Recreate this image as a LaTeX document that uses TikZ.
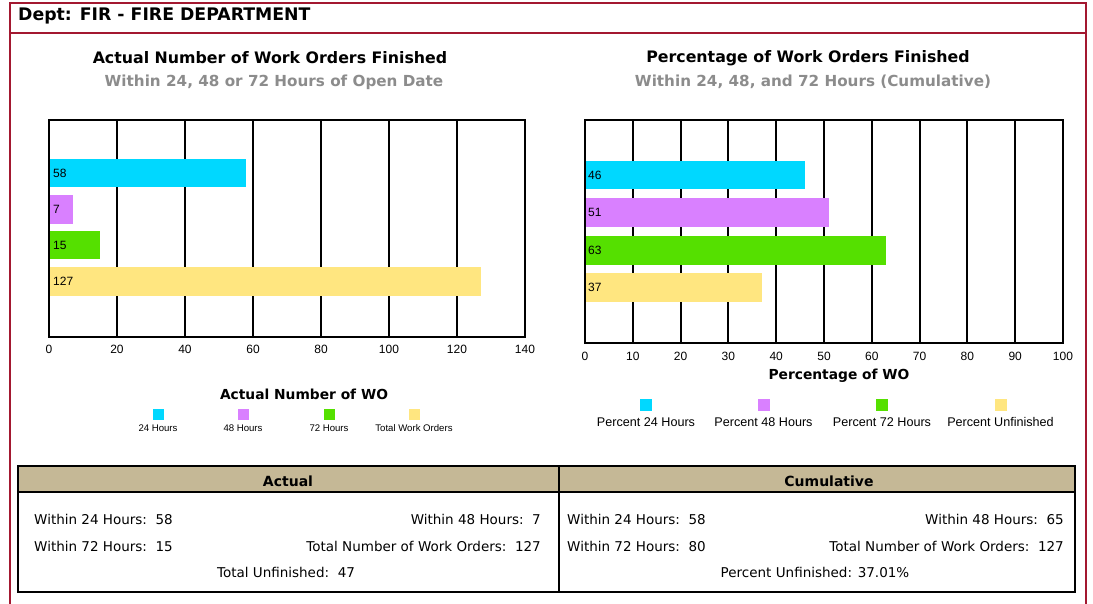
\documentclass[tikz,border=0pt]{standalone}
\usepackage{fontspec}
\setmainfont{DejaVu Sans}
\newfontfamily\arialf{Liberation Sans}
\newfontfamily\tahomaf{DejaVu Sans}
\definecolor{framered}{RGB}{163,24,48}
\definecolor{subgray}{RGB}{140,140,140}
\definecolor{bcyan}{RGB}{0,216,255}
\definecolor{bpurple}{RGB}{217,128,255}
\definecolor{bgreen}{RGB}{85,224,0}
\definecolor{byellow}{RGB}{255,230,128}
\definecolor{tan}{RGB}{197,184,150}
\begin{document}
\begin{tikzpicture}[x=1pt,y=-1pt,
  hdr/.style={font=\fontsize{17.3}{20}\selectfont\bfseries, inner sep=0pt},
  ttl/.style={font=\fontsize{15.8}{18}\selectfont\bfseries, inner sep=0pt},
  sub/.style={font=\fontsize{15.2}{17}\selectfont\bfseries, text=subgray, inner sep=0pt},
  tick/.style={font=\arialf\fontsize{12}{14}\selectfont, inner sep=0pt},
  barlbl/.style={font=\arialf\fontsize{12}{14}\selectfont, anchor=west, inner sep=0pt},
  gridln/.style={line width=2pt, black},
  plotbox/.style={line width=2.5pt, black},
  axttl/.style={font=\fontsize{13.8}{16}\selectfont\bfseries, inner sep=0pt},
  lgsmall/.style={font=\arialf\fontsize{9.6}{11}\selectfont, inner sep=0pt},
  lgbig/.style={font=\arialf\fontsize{12.6}{14}\selectfont, inner sep=0pt},
  tbl/.style={font=\tahomaf\fontsize{13.5}{16}\selectfont, inner sep=0pt},
  tblh/.style={font=\tahomaf\fontsize{14}{16}\selectfont\bfseries, inner sep=0pt}]
\useasboundingbox (0,0) rectangle (1093,604);
\fill[white] (0,0) rectangle (1093,604);
% frame
\draw[framered, line width=2pt] (10,604) -- (10,3) -- (1086,3) -- (1086,604);
\draw[framered, line width=2pt] (10,33) -- (1086,33);
\node[hdr, anchor=west] (dept) at (18,16) {Dept: FIR - FIRE DEPARTMENT};
% ---------- left chart ----------
\node[ttl] (lt) at (270,58) {Actual Number of Work Orders Finished};
\node[sub] (ls) at (274,82) {Within 24, 48 or 72 Hours of Open Date};
\foreach \k in {1,...,6} \draw[gridln] ({49+68*\k},120) -- ({49+68*\k},337);
\fill[bcyan]   (49,159) rectangle ({49+58*3.4},187);
\fill[bpurple] (49,195) rectangle ({49+7*3.4},224);
\fill[bgreen]  (49,231) rectangle ({49+15*3.4},259);
\fill[byellow] (49,267) rectangle ({49+127*3.4},296);
\node[barlbl] (lb1) at (53,173) {58};
\node[barlbl] (lb2) at (53,209.5) {7};
\node[barlbl] (lb3) at (53,245) {15};
\node[barlbl] (lb4) at (53,281.5) {127};
\draw[plotbox] (49,120) rectangle (525,337);
\foreach \k [evaluate=\k as \v using int(20*\k)] in {0,...,7}
  \node[tick] (ltk\k) at ({49+68*\k},349) {\v};
\node[axttl] (lax) at (304,394) {Actual Number of WO};
\foreach \x/\c/\t [count=\i] in {158/bcyan/24 Hours,243/bpurple/48 Hours,329/bgreen/72 Hours,414/byellow/Total Work Orders}{
  \fill[\c] (\x-5.5,408.5) rectangle (\x+5.5,419.5);
  \node[lgsmall] (llg\i) at (\x,428) {\t};
}
% ---------- right chart ----------
\node[ttl] (rt) at (808,58) {Percentage of Work Orders Finished};
\node[sub] (rs) at (813,82) {Within 24, 48, and 72 Hours (Cumulative)};
\foreach \k in {1,...,9} \draw[gridln] ({585+47.8*\k},120) -- ({585+47.8*\k},343);
\fill[bcyan]   (585,161) rectangle ({585+46*4.78},189);
\fill[bpurple] (585,198) rectangle ({585+51*4.78},227);
\fill[bgreen]  (585,236) rectangle ({585+63*4.78},265);
\fill[byellow] (585,273) rectangle ({585+37*4.78},302);
\node[barlbl] (rb1) at (588,175) {46};
\node[barlbl] (rb2) at (588,212.5) {51};
\node[barlbl] (rb3) at (588,250.5) {63};
\node[barlbl] (rb4) at (588,287.5) {37};
\draw[plotbox] (585,120) rectangle (1063,343);
\foreach \k [evaluate=\k as \v using int(10*\k)] in {0,...,10}
  \node[tick] (rtk\k) at ({585+47.8*\k},356) {\v};
\node[axttl] (rax) at (839,376) {Percentage of WO};
\foreach \x/\c/\t [count=\i] in {646/bcyan/Percent 24 Hours,763.5/bpurple/Percent 48 Hours,882/bgreen/Percent 72 Hours,1000.5/byellow/Percent Unfinished}{
  \fill[\c] (\x-6,399) rectangle (\x+6,411);
  \node[lgbig] (rlg\i) at (\x,422) {\t};
}
% ---------- table ----------
\fill[tan] (18,466) rectangle (1075,492);
\draw[line width=2.5pt] (18,466) rectangle (1075,592);
\draw[line width=2pt] (18,492) -- (1075,492);
\draw[line width=2pt] (559,466) -- (559,592);
\node[tblh] (ha) at (288,481) {Actual};
\node[tblh] (hc) at (829,481) {Cumulative};
\node[tbl, anchor=west] (a1) at (34,519) {Within 24 Hours:\ \ 58};
\node[tbl, anchor=east] (a2) at (541,519) {Within 48 Hours:\ \ 7};
\node[tbl, anchor=west] (a3) at (34,546) {Within 72 Hours:\ \ 15};
\node[tbl, anchor=east] (a4) at (541,546) {Total Number of Work Orders:\ \ 127};
\node[tbl] (a5) at (286,572) {Total Unfinished:\ \ 47};
\node[tbl, anchor=west] (c1) at (567,519) {Within 24 Hours:\ \ 58};
\node[tbl, anchor=east] (c2) at (1064,519) {Within 48 Hours:\ \ 65};
\node[tbl, anchor=west] (c3) at (567,546) {Within 72 Hours:\ \ 80};
\node[tbl, anchor=east] (c4) at (1064,546) {Total Number of Work Orders:\ \ 127};
\node[tbl] (c5) at (815,572) {Percent Unfinished: 37.01\%};
\end{tikzpicture}
\end{document}
